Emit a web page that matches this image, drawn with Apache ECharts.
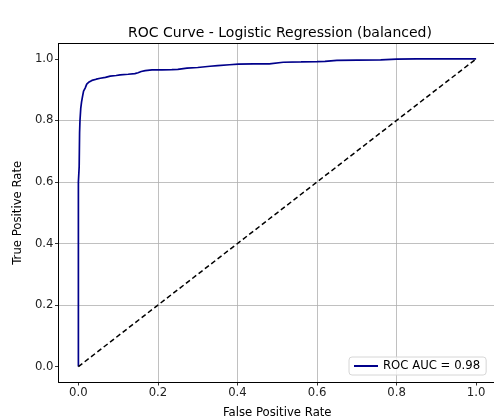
<!DOCTYPE html>
<html>
<head>
<meta charset="utf-8">
<script src="https://cdn.jsdelivr.net/npm/echarts@6/dist/echarts.min.js"></script>
<style>
  html, body { margin: 0; padding: 0; background: #fff; }
  #chart { width: 494px; height: 416px; }
</style>
</head>
<body>
<div id="chart"></div>
<script>
// ROC curve
var fpr = [0, 0, 0.002, 0.003, 0.004, 0.006, 0.008, 0.010, 0.013, 0.017, 0.021, 0.027, 0.034, 0.045,
  0.055, 0.068, 0.080, 0.095, 0.105, 0.125, 0.142, 0.150, 0.158, 0.168, 0.185, 0.210, 0.235, 0.250,
  0.273, 0.300, 0.331, 0.350, 0.380, 0.402, 0.440, 0.480, 0.515, 0.560, 0.600, 0.620, 0.650, 0.700,
  0.760, 0.800, 0.850, 1.0];
var tpr = [0, 0.60, 0.65, 0.76, 0.80, 0.84, 0.86, 0.875, 0.895, 0.905, 0.918, 0.925, 0.930, 0.934,
  0.937, 0.940, 0.944, 0.946, 0.948, 0.950, 0.952, 0.955, 0.959, 0.962, 0.964, 0.964, 0.965, 0.966,
  0.970, 0.972, 0.976, 0.978, 0.981, 0.983, 0.984, 0.984, 0.989, 0.990, 0.991, 0.992, 0.995, 0.996,
  0.997, 0.999, 1.0, 1.0];
var chanceX = [0, 1];
var chanceY = [0, 1];
var tickValues = [0, 0.2, 0.4, 0.6, 0.8, 1.0];
var rocName = "ROC AUC = 0.98";

var font = "DejaVu Sans";
var chart = echarts.init(document.getElementById("chart"));

function pairs(xs, ys) {
  return xs.map(function (x, i) { return [x, ys[i]]; });
}

function axis(name, gap) {
  return {
    type: "value",
    min: -0.05,
    max: 1.05,
    name: name,
    nameLocation: "middle",
    nameGap: gap,
    nameTextStyle: { fontFamily: font, fontSize: 11.7, color: "#000" },
    axisLine: { show: true, onZero: false, lineStyle: { color: "#000", width: 1 } },
    axisTick: { show: true, inside: false, length: 3.5, customValues: tickValues,
      lineStyle: { color: "#000", width: 0.8 } },
    axisLabel: { customValues: tickValues, fontFamily: font, fontSize: 11.7, color: "#222",
      margin: 5, formatter: function (v) { return v.toFixed(1); } },
    splitLine: { show: true, showMinLine: false, showMaxLine: false,
      lineStyle: { color: "#b0b0b0", width: 0.8 } }
  };
}

// plain top spine, no ticks or labels
var topSpine = {
  type: "value",
  position: "top",
  min: -0.05,
  max: 1.05,
  axisLine: { show: true, onZero: false, lineStyle: { color: "#000", width: 1 } },
  axisTick: { show: false },
  axisLabel: { show: false },
  splitLine: { show: false }
};

chart.setOption({
  animation: false,
  title: {
    text: "ROC Curve - Logistic Regression (balanced)",
    left: 275,
    textAlign: "center",
    top: 21,
    textStyle: { fontFamily: font, fontSize: 14, fontWeight: "normal", color: "#000" }
  },
  grid: {
    left: 58.5,
    top: 43.5,
    right: -2,
    bottom: 34,
    containLabel: false,
    outerBoundsMode: "none"
  },
  legend: {
    data: [rocName],
    left: 349,
    top: 357,
    icon: "rect",
    itemWidth: 24,
    itemHeight: 2,
    itemGap: 8,
    padding: [3, 6, 3, 5],
    backgroundColor: "rgba(255,255,255,0.8)",
    borderColor: "#d6d6d6",
    borderWidth: 1,
    borderRadius: 3,
    textStyle: { fontFamily: font, fontSize: 11.7, color: "#000" }
  },
  xAxis: [axis("False Positive Rate", 25), topSpine],
  yAxis: axis("True Positive Rate", 33),
  series: [
    {
      name: rocName,
      type: "line",
      data: pairs(fpr, tpr),
      symbol: "none",
      color: "#00008b",
      lineStyle: { color: "#00008b", width: 1.7 }
    },
    {
      name: "chance",
      type: "line",
      data: pairs(chanceX, chanceY),
      symbol: "none",
      color: "#000",
      lineStyle: { color: "#000", width: 1.5, type: [5, 3] }
    }
  ]
});
</script>
</body>
</html>
